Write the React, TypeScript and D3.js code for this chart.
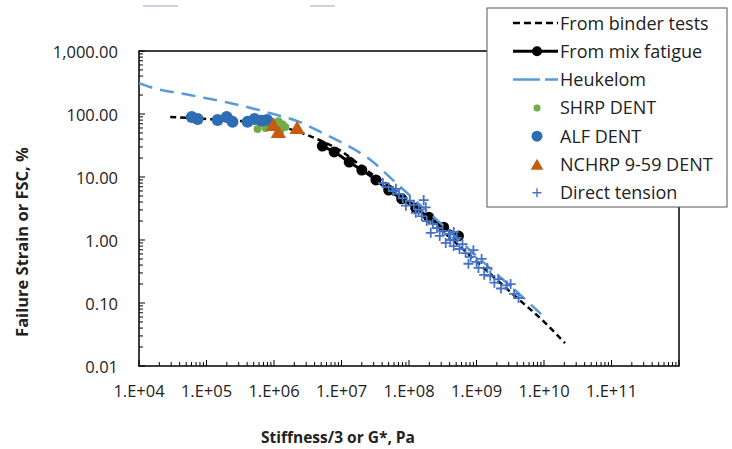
import React from "react";
import * as d3 from "d3";

// stiffness (Pa) vs failure strain (%)
const binderTests: [number, number][] = [
  [2.9e4, 90], [1.1e5, 83], [4.3e5, 75], [1.2e6, 64], [3.7e6, 43], [9.2e6, 27],
  [2.55e7, 12], [7.1e7, 5.6], [1.95e8, 2.2], [6.0e8, 0.75], [3.3e9, 0.144],
  [1.05e10, 0.048], [2.05e10, 0.023],
];

const mixFatigue: [number, number][] = [
  [5.2e6, 31], [7.8e6, 25], [1.3e7, 17.3], [2.0e7, 12.9], [3.24e7, 9.0], [5.0e7, 6.2],
  [7.8e7, 4.5], [1.26e8, 3.2], [1.96e8, 2.3], [3.26e8, 1.6], [5.4e8, 1.16],
];

const heukelom: [number, number][] = [
  [1e4, 309], [1.45e4, 268], [5.65e4, 200], [2.2e5, 150], [8.55e5, 104], [2.37e6, 75],
  [5.2e6, 50], [1.02e7, 35], [2.7e7, 18.6], [6.0e7, 8.6], [1.22e8, 4.3], [3.26e8, 1.67],
  [9.0e8, 0.62], [1.9e9, 0.3], [3.3e9, 0.18], [5.8e9, 0.104], [1.04e10, 0.058],
];

const shrpDent: [number, number][] = [
  [5.7e5, 58], [7.5e5, 60], [9.2e5, 75], [1.16e6, 77], [1.33e6, 69], [1.24e6, 54], [1.47e6, 62],
];

const alfDent: [number, number][] = [
  [6.05e4, 90], [7.4e4, 83], [1.46e5, 80], [1.99e5, 90], [2.43e5, 75],
  [4.05e5, 75], [5.15e5, 83], [6.5e5, 78], [7.9e5, 80],
];

const nchrpDent: [number, number][] = [
  [9.8e5, 65], [1.16e6, 50], [2.2e6, 58],
];

const directTension: [number, number][] = [
  [4.1e7, 8.0], [5.0e7, 6.9], [5.8e7, 6.0], [6.4e7, 6.5], [7.1e7, 5.4], [8.1e7, 4.6],
  [9.0e7, 3.5], [1.03e8, 4.2], [1.18e8, 3.6], [1.26e8, 2.7], [1.4e8, 3.0], [1.55e8, 2.4],
  [1.77e8, 3.3], [1.83e8, 2.0], [2.1e8, 1.3], [2.25e8, 1.8], [2.6e8, 1.55], [2.85e8, 1.16],
  [3.15e8, 1.4], [3.5e8, 0.9], [3.9e8, 1.24], [4.1e8, 1.0], [4.6e8, 0.8], [5.1e8, 1.08],
  [5.6e8, 0.72], [6.2e8, 0.86], [6.9e8, 0.62], [7.6e8, 0.42], [8.2e8, 0.54], [9.0e8, 0.69],
  [1.0e9, 0.45], [1.07e9, 0.36], [1.19e9, 0.5], [1.3e9, 0.28], [1.45e9, 0.36], [1.6e9, 0.27],
  [1.84e9, 0.21], [2.1e9, 0.24], [2.3e9, 0.17], [2.8e9, 0.19], [3.2e9, 0.2], [3.6e9, 0.14],
  [4.2e9, 0.12], [1.65e8, 4.3], [4.6e8, 1.34],
];

const xTicks = [1e4, 1e5, 1e6, 1e7, 1e8, 1e9, 1e10, 1e11];
const yTicks = [1000, 100, 10, 1, 0.1, 0.01];

const legendItems = [
  "From binder tests",
  "From mix fatigue",
  "Heukelom",
  "SHRP DENT",
  "ALF DENT",
  "NCHRP 9-59 DENT",
  "Direct tension",
];

const FONT = "'Open Sans', sans-serif";
const C_HEUK = "#5B9BD5";
const C_ALF = "#2E6DB4";
const C_SHRP = "#70AD47";
const C_NCHRP = "#C55A11";
const C_DT = "#4472C4";

export default function App() {
  const left = 139, right = 679, top = 51, bottom = 366;
  const x = d3.scaleLog().domain([1e4, 1e12]).range([left, right]);
  const y = d3.scaleLog().domain([0.01, 1000]).range([bottom, top]);

  const line = d3
    .line<[number, number]>()
    .x(d => x(d[0]))
    .y(d => y(d[1]))
    .curve(d3.curveMonotoneX);

  const fmtX = (v: number) => `1.E+${String(Math.round(Math.log10(v))).padStart(2, "0")}`;
  const fmtY = d3.format(",.2f");

  const minorX: number[] = [];
  for (let e = 4; e < 12; e++) for (let m = 1; m <= 9; m++) minorX.push(m * Math.pow(10, e));
  minorX.push(1e12);
  const minorY: number[] = [];
  for (let e = -2; e < 3; e++) for (let m = 1; m <= 9; m++) minorY.push(m * Math.pow(10, e));
  minorY.push(1000);

  const tri = (cx: number, cy: number, s: number) =>
    `M${cx},${cy - s * 0.95}L${cx + s * 0.9},${cy + s * 0.6}L${cx - s * 0.9},${cy + s * 0.6}Z`;
  const plus = (cx: number, cy: number, s: number) =>
    `M${cx - s},${cy}H${cx + s}M${cx},${cy - s}V${cy + s}`;

  const lgX = 487, lgY = 8, lgW = 240, lgH = 199;
  const rowY = (i: number) => 23 + i * 28.3;
  const mx = 537;

  return (
    <svg width={732} height={449} style={{ position: "absolute", left: 0, top: 0, background: "#fff" }}>
      <rect width={732} height={449} fill="#fff" />
      <line x1={143} x2={178} y1={6} y2={6} stroke="#c9d3e3" strokeWidth={2} />
      <line x1={310} x2={335} y1={6} y2={6} stroke="#c9d3e3" strokeWidth={2} />

      {/* ticks */}
      {minorX.map((v, i) => {
        const major = Math.abs(Math.log10(v) - Math.round(Math.log10(v))) < 1e-9;
        return <line key={"mx" + i} x1={x(v)} x2={x(v)} y1={bottom} y2={bottom - (major ? 6 : 4)} stroke="#000" strokeWidth={1} />;
      })}
      {minorY.map((v, i) => {
        const major = Math.abs(Math.log10(v) - Math.round(Math.log10(v))) < 1e-9;
        return <line key={"my" + i} x1={left} x2={left + (major ? 6 : 4)} y1={y(v)} y2={y(v)} stroke="#000" strokeWidth={1} />;
      })}
      <rect x={left} y={top} width={right - left} height={bottom - top} fill="none" stroke="#000" strokeWidth={1.5} />

      {xTicks.map(v => (
        <text key={"xl" + v} x={x(v)} y={397} textAnchor="middle" fontFamily={FONT} fontSize={16.5} fill="#222">
          {fmtX(v)}
        </text>
      ))}
      {yTicks.map(v => (
        <text key={"yl" + v} x={118} y={y(v) + 7} textAnchor="end" fontFamily={FONT} fontSize={16.5} fill="#222">
          {fmtY(v)}
        </text>
      ))}
      <text x={338} y={443} textAnchor="middle" fontFamily={FONT} fontSize={15.5} fontWeight="bold" fill="#222">
        Stiffness/3 or G*, Pa
      </text>
      <text transform={`translate(28,242) rotate(-90)`} textAnchor="middle" fontFamily={FONT} fontSize={16.5} fontWeight="bold" fill="#222">
        Failure Strain or FSC, %
      </text>

      {/* series */}
      <g>
        <path d={line(binderTests) || ""} fill="none" stroke="#000" strokeWidth={2.5} strokeDasharray="6 4" />
        <path d={line(mixFatigue) || ""} fill="none" stroke="#000" strokeWidth={3} />
        {mixFatigue.map((d, i) => (
          <circle key={"mf" + i} cx={x(d[0])} cy={y(d[1])} r={5.5} fill="#000" />
        ))}
        <path d={line(heukelom) || ""} fill="none" stroke={C_HEUK} strokeWidth={2.5} strokeDasharray="14 8" />
        {shrpDent.map((d, i) => (
          <circle key={"sh" + i} cx={x(d[0])} cy={y(d[1])} r={4} fill={C_SHRP} />
        ))}
        {alfDent.map((d, i) => (
          <circle key={"al" + i} cx={x(d[0])} cy={y(d[1])} r={6} fill={C_ALF} />
        ))}
        {nchrpDent.map((d, i) => (
          <path key={"nc" + i} d={tri(x(d[0]), y(d[1]), 8.5)} fill={C_NCHRP} />
        ))}
        {directTension.map((d, i) => (
          <path key={"dt" + i} d={plus(x(d[0]), y(d[1]), 5)} stroke={C_DT} strokeWidth={1.8} fill="none" />
        ))}
      </g>

      {/* legend */}
      <rect x={lgX} y={lgY} width={lgW} height={lgH} fill="#fff" stroke="#555" strokeWidth={1} />
      <line x1={513} x2={558} y1={rowY(0)} y2={rowY(0)} stroke="#000" strokeWidth={2.5} strokeDasharray="7 4" />
      <line x1={513} x2={558} y1={rowY(1)} y2={rowY(1)} stroke="#000" strokeWidth={3} />
      <circle cx={mx} cy={rowY(1)} r={5} fill="#000" />
      <line x1={513} x2={558} y1={rowY(2)} y2={rowY(2)} stroke={C_HEUK} strokeWidth={2.5} strokeDasharray="27 5" />
      <circle cx={mx} cy={rowY(3)} r={3.5} fill={C_SHRP} />
      <circle cx={mx} cy={rowY(4)} r={5.5} fill={C_ALF} />
      <path d={tri(mx, rowY(5) + 1, 7)} fill={C_NCHRP} />
      <path d={plus(mx, rowY(6), 4.5)} stroke={C_DT} strokeWidth={1.4} fill="none" />
      {legendItems.map(t => (
        <text key={t} x={560} y={rowY(legendItems.indexOf(t)) + 6.5} fontFamily={FONT} fontSize={18} fill="#222">
          {t}
        </text>
      ))}
    </svg>
  );
}
